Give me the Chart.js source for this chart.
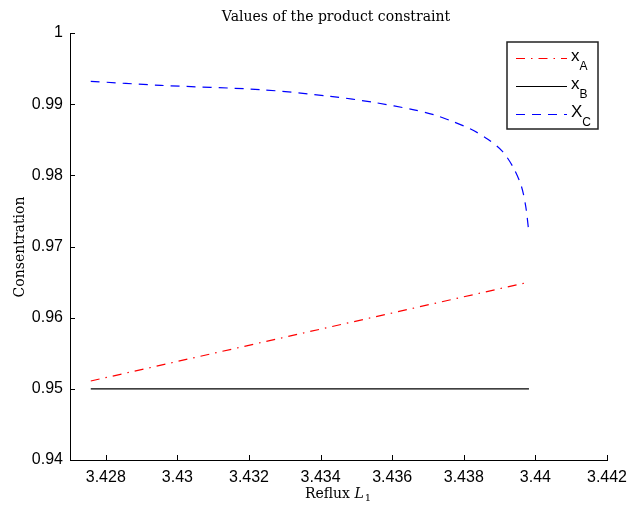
<!DOCTYPE html>
<html>
<head>
<meta charset="utf-8">
<script src="https://cdn.jsdelivr.net/npm/chart.js@4"></script>
<style>
  html, body { margin: 0; padding: 0; background: #fff; }
  canvas { display: block; }
</style>
</head>
<body>
<canvas id="grafico" width="630" height="507"></canvas>
<script>
// datos
const refluxAB = [3.42758, 3.43982];
const xA = [0.9511, 0.9650];
const xB = [0.9500, 0.9500];

const refluxC = [3.42758, 3.42954, 3.43233, 3.43428, 3.43549, 3.43661, 3.43717, 3.43768, 3.43819, 3.43866, 3.43908, 3.43939, 3.43961, 3.43973, 3.43981];
const xC = [0.99321, 0.99264, 0.99204, 0.99110, 0.99025, 0.98921, 0.98850, 0.98758, 0.98651, 0.98511, 0.98336, 0.98103, 0.97844, 0.97563, 0.97235];

const xTicks = [3.428, 3.43, 3.432, 3.434, 3.436, 3.438, 3.44, 3.442];
const yTicks = [0.94, 0.95, 0.96, 0.97, 0.98, 0.99, 1];

const series = [
  { sub: 'A', main: 'x', color: '#ff0000', dash: [9, 6, 1.5, 6] },
  { sub: 'B', main: 'x', color: '#000000', dash: [] },
  { sub: 'C', main: 'X', color: '#0000ff', dash: [9, 7] }
];

const puntos = (xs, ys) => xs.map((x, i) => ({ x: x, y: ys[i] }));
const fmt = v => String(Number(v.toFixed(4)));

const serif = '"DejaVu Serif"';
const ctx = document.getElementById('grafico').getContext('2d');

// titulo, etiquetas, marcas hacia dentro y leyenda
const extras = {
  id: 'extras',
  afterDraw(chart) {
    const c = chart.ctx;
    const a = chart.chartArea;
    const sx = chart.scales.x, sy = chart.scales.y;
    c.save();
    c.strokeStyle = '#000';
    c.lineWidth = 1;
    c.beginPath();
    xTicks.forEach(v => {
      const px = Math.round(sx.getPixelForValue(v)) + 0.5;
      c.moveTo(px, a.bottom); c.lineTo(px, a.bottom - 5);
    });
    yTicks.forEach(v => {
      const py = Math.round(sy.getPixelForValue(v)) + 0.5;
      c.moveTo(a.left, py); c.lineTo(a.left + 5, py);
    });
    c.stroke();

    c.fillStyle = '#000';
    c.textBaseline = 'alphabetic';
    c.textAlign = 'center';
    c.font = '14px ' + serif;
    c.fillText('Values of the product constraint', 336, 21);

    // Reflux L1
    c.textAlign = 'left';
    const t1 = 'Reflux ';
    c.font = 'italic 14px ' + serif;
    const wL = c.measureText('L').width;
    c.font = '10px ' + serif;
    const w1 = c.measureText('1').width;
    c.font = '14px ' + serif;
    const wR = c.measureText(t1).width;
    const x0 = 338 - (wR + wL + w1 + 1) / 2;
    c.fillText(t1, x0, 498);
    c.font = 'italic 14px ' + serif;
    c.fillText('L', x0 + wR, 498);
    c.font = '10px ' + serif;
    c.fillText('1', x0 + wR + wL + 1, 501);

    // eje y
    c.save();
    c.translate(24, 247);
    c.rotate(-Math.PI / 2);
    c.textAlign = 'center';
    c.font = '14px ' + serif;
    c.fillText('Consentration', 0, 0);
    c.restore();

    // leyenda
    c.fillStyle = '#fff';
    c.fillRect(507, 42, 91, 87);
    c.strokeStyle = '#222';
    c.lineWidth = 1.5;
    c.strokeRect(507, 42, 91, 87);
    const ys = [58.5, 86.5, 114.5];
    series.forEach((s, i) => {
      c.strokeStyle = s.color;
      c.lineWidth = 1;
      c.setLineDash(s.dash);
      c.beginPath();
      c.moveTo(516, ys[i]); c.lineTo(567, ys[i]);
      c.stroke();
      c.setLineDash([]);
      c.fillStyle = '#000';
      c.textAlign = 'left';
      c.font = '17px "Liberation Sans"';
      c.fillText(s.main, 571, ys[i] + 2);
      const w = c.measureText(s.main).width;
      c.font = '12px "Liberation Sans"';
      c.fillText(s.sub, 571 + w, ys[i] + 11);
    });
    c.restore();
  }
};

const chart = new Chart(ctx, {
  type: 'line',
  data: {
    datasets: [
      {
        label: 'xA',
        data: puntos(refluxAB, xA),
        borderColor: series[0].color,
        borderDash: series[0].dash,
        borderWidth: 1.2
      },
      {
        label: 'xB',
        data: puntos(refluxAB, xB),
        borderColor: series[1].color,
        borderWidth: 1.3
      },
      {
        label: 'XC',
        data: puntos(refluxC, xC),
        borderColor: series[2].color,
        borderDash: series[2].dash,
        borderWidth: 1.2,
        tension: 0.3
      }
    ]
  },
  options: {
    responsive: false,
    animation: false,
    elements: { point: { radius: 0 } },
    layout: { padding: { top: 33, right: 23, left: 0, bottom: 0 } },
    plugins: {
      legend: { display: false },
      title: { display: false },
      tooltip: { enabled: false }
    },
    scales: {
      x: {
        type: 'linear',
        min: 3.427,
        max: 3.442,
        afterBuildTicks: s => { s.ticks = xTicks.map(v => ({ value: v })); },
        afterFit: s => { s.height = 47; s.paddingLeft = 0; s.paddingRight = 0; },
        grid: { display: false, drawTicks: false },
        border: { display: true, color: '#000', width: 1 },
        ticks: {
          color: '#000',
          padding: 8,
          maxRotation: 0,
          autoSkip: false,
          font: { family: 'Liberation Sans', size: 16 },
          callback: v => fmt(v)
        }
      },
      y: {
        min: 0.94,
        max: 1,
        afterBuildTicks: s => { s.ticks = yTicks.map(v => ({ value: v })); },
        afterFit: s => { s.width = 70; s.paddingTop = 0; s.paddingBottom = 0; },
        grid: { display: false, drawTicks: false },
        border: { display: true, color: '#000', width: 1 },
        ticks: {
          color: '#000',
          padding: 7,
          autoSkip: false,
          font: { family: 'Liberation Sans', size: 16 },
          callback: v => fmt(v)
        }
      }
    }
  },
  plugins: [extras]
});
</script>
</body>
</html>
